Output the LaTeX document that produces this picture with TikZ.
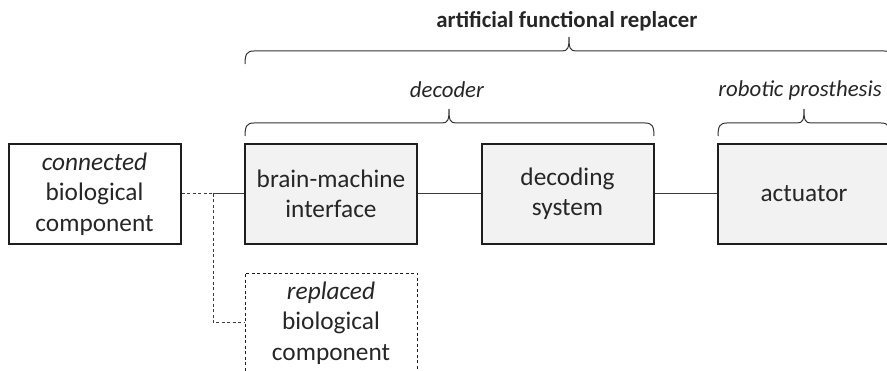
\documentclass[tikz,border=0pt]{standalone}
\usepackage{fontspec}
\setmainfont{Carlito}
\definecolor{boxfill}{HTML}{F2F2F2}
\definecolor{edge}{HTML}{1E1E1E}
\definecolor{wire}{HTML}{3C3C3C}
% horizontal curly brace: #1 left x, #2 right x, #3 tip x, #4 y of the bar
\newcommand{\spanbrace}[4]{%
  \draw[bracestyle] (#1,#4+13) .. controls (#1,#4+3) and (#1+2,#4) .. (#1+9,#4)
    -- (#3-7,#4) .. controls (#3-1,#4) and (#3,#4-3) .. (#3,#4-14)
    .. controls (#3,#4-3) and (#3+1,#4) .. (#3+7,#4)
    -- (#2-9,#4) .. controls (#2-2,#4) and (#2,#4+3) .. (#2,#4+13);}
\begin{document}
\begin{tikzpicture}[x=1pt,y=-1pt,
  block/.style={draw=edge, line width=2pt, minimum width=172pt, minimum height=100pt,
    inner sep=0pt, align=center, font=\fontsize{25.3}{30.5}\selectfont, text=black!85},
  shaded/.style={block, fill=boxfill},
  ghost/.style={block, line width=0.9pt, dashed, dash pattern=on 3pt off 2.5pt},
  wireline/.style={draw=wire, line width=1pt},
  bracestyle/.style={draw=black!80, line width=1pt},
  lbl/.style={font=\fontsize{22.8}{27}\selectfont, text=black!85, inner sep=0pt}]
\useasboundingbox (0,0) rectangle (887,371);
\clip (0,0) rectangle (887,371);

% blocks
\node[block]  (conn) at (94.5,194) {\textit{connected}\\biological\\component};
\node[shaded] (bmi)  at (331,194) {brain-machine\\interface};
\node[shaded] (dec)  at (567.5,194) {decoding\\system};
\node[shaded] (act)  at (804,194) {actuator};
\node[ghost]  (repl) at (331,323) {\textit{replaced}\\biological\\component};

% connectors
\coordinate (split) at (213,194);
\draw[wireline, dashed, dash pattern=on 3pt off 2.5pt] (conn.east) -- (split);
\draw[wireline] (split) -- (bmi.west);
\draw[wireline, dashed, dash pattern=on 3pt off 2.5pt] (split) |- (repl.west);
\draw[wireline] (bmi.east) -- (dec.west);
\draw[wireline] (dec.east) -- (act.west);

% braces and their labels
\spanbrace{245}{893}{569}{51}
\spanbrace{245}{654}{449}{123}
\spanbrace{718}{890}{804}{123}
\node[lbl, font=\fontsize{22.8}{27}\selectfont\bfseries] (afr) at (567,21) {artificial functional replacer};
\node[lbl] (dlab) at (447,90) {\textit{decoder}};
\node[lbl] (rlab) at (800,90) {\textit{robotic prosthesis}};
\end{tikzpicture}
\end{document}
